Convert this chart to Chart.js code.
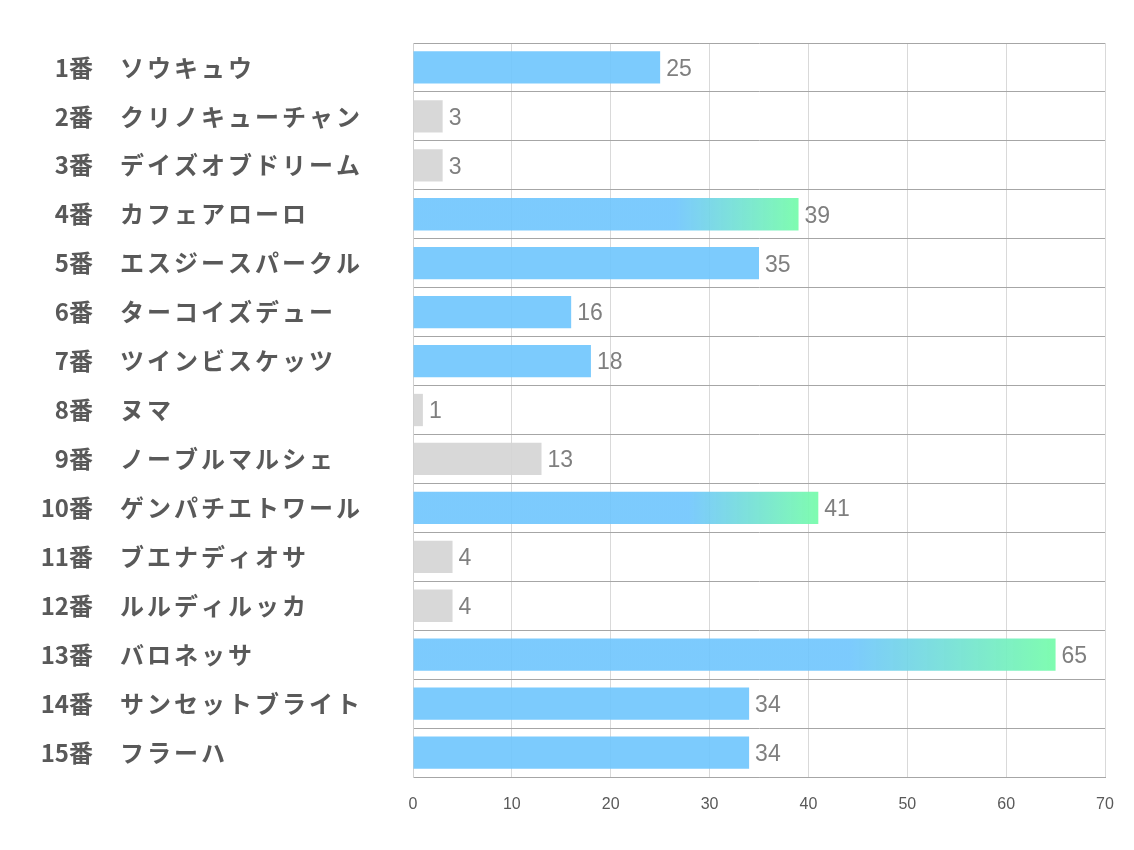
<!DOCTYPE html>
<html>
<head>
<meta charset="utf-8">
<script src="https://cdn.jsdelivr.net/npm/chart.js@4"></script>
<style>
  body { margin: 0; background: #fff; }
  #wrap { width: 1134px; height: 850px; }
</style>
</head>
<body>
<div id="wrap"><canvas id="chart" width="1134" height="850"></canvas></div>
<script>
// horse numbers and names
const numbers = ['1番', '2番', '3番', '4番', '5番', '6番', '7番', '8番', '9番', '10番', '11番', '12番', '13番', '14番', '15番'];
const names = ['ソウキュウ', 'クリノキューチャン', 'デイズオブドリーム', 'カフェアローロ', 'エスジースパークル',
  'ターコイズデュー', 'ツインビスケッツ', 'ヌマ', 'ノーブルマルシェ', 'ゲンパチエトワール',
  'ブエナディオサ', 'ルルディルッカ', 'バロネッサ', 'サンセットブライト', 'フラーハ'];
const values = [25, 3, 3, 39, 35, 16, 18, 1, 13, 41, 4, 4, 65, 34, 34];
// bar kind: 'b' blue, 'g' gray, 'h' highlighted (gradient)
const kinds = ['b', 'g', 'g', 'h', 'b', 'b', 'b', 'g', 'g', 'h', 'g', 'g', 'h', 'b', 'b'];
const xTicks = [0, 10, 20, 30, 40, 50, 60, 70];

const BLUE = 'rgba(110, 197, 253, 0.9)';
const GRAY = 'rgba(212, 212, 212, 0.9)';
const GREEN = 'rgba(120, 252, 172, 0.95)';

function barColor(ctx) {
    const kind = kinds[ctx.dataIndex];
    if (kind === 'g') return GRAY;
    if (kind === 'b') return BLUE;
    const chart = ctx.chart;
    const xs = chart.scales.x;
    if (!xs || !chart.chartArea) return BLUE;
    const x0 = xs.getPixelForValue(0);
    const x1 = xs.getPixelForValue(values[ctx.dataIndex]);
    const g = chart.ctx.createLinearGradient(x0, 0, x1, 0);
    g.addColorStop(0, BLUE);
    g.addColorStop(0.68, BLUE);
    g.addColorStop(1, GREEN);
    return g;
}

// draws "N番" right aligned and the name left aligned
const rowLabels = {
    id: 'rowLabels',
    afterDraw(chart) {
        const ctx = chart.ctx;
        const ys = chart.scales.y;
        ctx.save();
        ctx.fillStyle = '#595959';
        ctx.font = 'bold 24px "Noto Sans CJK JP"';
        ctx.textBaseline = 'middle';
        numbers.forEach((n, i) => {
            const y = ys.getPixelForValue(i);
            ctx.letterSpacing = '0px';
            ctx.textAlign = 'right';
            ctx.fillText(n, 93, y);
            ctx.letterSpacing = '3px';
            ctx.textAlign = 'left';
            ctx.fillText(names[i], 120, y);
        });
        ctx.restore();
    }
};

// value labels at the end of each bar
const valueLabels = {
    id: 'valueLabels',
    afterDatasetsDraw(chart) {
        const ctx = chart.ctx;
        const meta = chart.getDatasetMeta(0);
        ctx.save();
        ctx.fillStyle = '#7f7f7f';
        ctx.font = '23px "Liberation Sans"';
        ctx.textAlign = 'left';
        ctx.textBaseline = 'middle';
        meta.data.forEach((bar, i) => {
            ctx.fillText(String(values[i]), bar.x + 6, bar.y + 2);
        });
        ctx.restore();
    }
};

new Chart(document.getElementById('chart'), {
    type: 'bar',
    data: {
        labels: numbers,
        datasets: [{
            data: values,
            backgroundColor: barColor,
            borderWidth: 0,
            categoryPercentage: 1,
            barPercentage: 0.66
        }]
    },
    options: {
        indexAxis: 'y',
        responsive: false,
        animation: false,
        layout: { padding: { top: 43, right: 29, left: 0, bottom: 0 } },
        plugins: {
            legend: { display: false },
            tooltip: { enabled: false }
        },
        scales: {
            x: {
                min: 0,
                max: 70,
                afterBuildTicks: (scale) => { scale.ticks = xTicks.map(v => ({ value: v })); },
                afterFit: (scale) => { scale.height = 73; },
                grid: { color: '#d9d9d9', lineWidth: 1, drawTicks: false },
                border: { display: true, color: '#a6a6a6' },
                ticks: {
                    color: '#595959',
                    padding: 18,
                    font: { family: '"Liberation Sans Narrow", "Liberation Sans"', size: 16 }
                }
            },
            y: {
                afterFit: (scale) => { scale.width = 413; },
                grid: { color: '#a6a6a6', lineWidth: 1, drawTicks: false, offset: true },
                border: { display: true, color: '#d0d0d0' },
                ticks: { callback: () => '' }
            }
        }
    },
    plugins: [rowLabels, valueLabels]
});
</script>
</body>
</html>
